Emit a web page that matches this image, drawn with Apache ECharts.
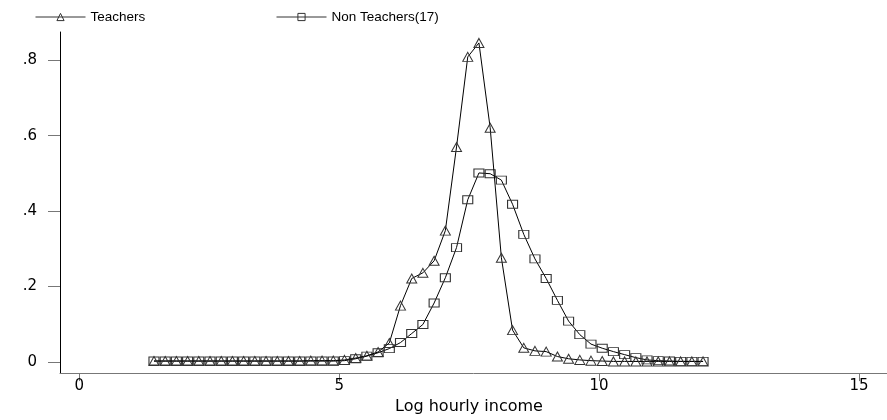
<!DOCTYPE html>
<html>
<head>
<meta charset="utf-8">
<script src="https://cdn.jsdelivr.net/npm/echarts@6/dist/echarts.min.js"></script>
<style>
html,body{margin:0;padding:0;background:#fff;}
#chart{width:887px;height:420px;}
</style>
</head>
<body>
<div id="chart"></div>
<script>
// Log hourly income grid (x values)
const xValues = [1.437,1.653,1.868,2.084,2.299,2.515,2.731,2.946,3.162,3.377,
  3.593,3.809,4.024,4.240,4.455,4.671,4.887,5.102,5.318,5.533,
  5.749,5.965,6.180,6.396,6.611,6.827,7.043,7.258,7.474,7.689,
  7.905,8.121,8.336,8.552,8.767,8.983,9.199,9.414,9.630,9.845,
  10.061,10.277,10.492,10.708,10.923,11.139,11.355,11.570,11.786,12.001];

const teachers = [0.002,0.002,0.002,0.002,0.002,0.002,0.002,0.002,0.002,0.002,
  0.002,0.002,0.002,0.002,0.003,0.003,0.003,0.005,0.010,0.016,
  0.026,0.050,0.149,0.221,0.236,0.268,0.348,0.570,0.809,0.846,
  0.621,0.276,0.084,0.037,0.029,0.027,0.014,0.008,0.005,0.003,
  0.002,0.001,0.001,0.001,0.001,0.001,0.001,0.001,0.001,0.001];

const nonTeachers = [0.002,0.002,0.002,0.002,0.002,0.002,0.002,0.002,0.002,0.002,
  0.002,0.002,0.002,0.002,0.002,0.002,0.002,0.003,0.008,0.015,
  0.024,0.035,0.051,0.075,0.099,0.156,0.223,0.303,0.430,0.501,
  0.499,0.482,0.418,0.338,0.273,0.221,0.163,0.108,0.072,0.047,
  0.036,0.027,0.019,0.011,0.005,0.003,0.002,0.001,0.001,0.001];

const seriesNames = ['Teachers', 'Non Teachers(17)'];
const xTickValues = [0, 5, 10, 15];
const yTickValues = [0, 0.2, 0.4, 0.6, 0.8];
const yTickLabels = ['0', '.2', '.4', '.6', '.8'];
const xTitle = 'Log hourly income';

const pairs = (ys) => xValues.map((x, i) => [x, ys[i]]);

const chart = echarts.init(document.getElementById('chart'), null, {renderer: 'canvas'});

const markerStyle = {color: 'rgba(255,255,255,0)', borderColor: '#333', borderWidth: 1};

const legendBase = {
  top: 10, padding: 0, itemWidth: 50, itemHeight: 9, selectedMode: false,
  textStyle: {fontSize: 13.5, color: '#000', fontFamily: 'Liberation Sans'},
  itemStyle: {color: 'rgba(255,255,255,0)', borderColor: '#333', borderWidth: 1},
  lineStyle: {color: '#333', width: 1}
};

chart.setOption({
  animation: false,
  backgroundColor: '#fff',
  textStyle: {fontFamily: 'Liberation Sans'},
  grid: {left: 60, right: 0, top: 32, bottom: 42.3, containLabel: false},
  legend: [
    Object.assign({}, legendBase, {data: [seriesNames[0]], left: 35}),
    Object.assign({}, legendBase, {data: [seriesNames[1]], left: 276})
  ],
  xAxis: {
    type: 'value', min: -0.371, max: 15.54,
    name: xTitle, nameLocation: 'middle', nameGap: 21,
    nameTextStyle: {fontSize: 16, color: '#000', fontFamily: 'DejaVu Sans', padding: [0, 9, 0, 0]},
    axisLine: {show: true, onZero: false, lineStyle: {color: '#777', width: 1}},
    axisTick: {show: true, customValues: xTickValues, length: 8, lineStyle: {color: '#777'}},
    axisLabel: {customValues: xTickValues, margin: 6, fontSize: 15, color: '#000', fontFamily: 'DejaVu Sans'},
    splitLine: {show: false}
  },
  yAxis: {
    type: 'value', min: -0.030, max: 0.875,
    axisLine: {show: true, onZero: false, lineStyle: {color: '#000', width: 1}},
    axisTick: {show: true, customValues: yTickValues, length: 12, lineStyle: {color: '#777'}},
    axisLabel: {
      customValues: yTickValues, margin: 23, fontSize: 15, color: '#000', fontFamily: 'DejaVu Sans',
      formatter: (v) => {
        const i = yTickValues.findIndex(t => Math.abs(t - v) < 1e-9);
        return i >= 0 ? yTickLabels[i] : '';
      }
    },
    splitLine: {show: false}
  },
  series: [
    {
      name: seriesNames[0], type: 'line', data: pairs(teachers),
      symbol: 'triangle', symbolSize: [10, 9], showAllSymbol: true,
      itemStyle: markerStyle, lineStyle: {color: '#000', width: 1},
      emphasis: {disabled: true}, z: 3
    },
    {
      name: seriesNames[1], type: 'line', data: pairs(nonTeachers),
      symbol: 'rect', symbolSize: [10, 8], showAllSymbol: true,
      itemStyle: markerStyle, lineStyle: {color: '#000', width: 1},
      emphasis: {disabled: true}, z: 2
    }
  ]
});
</script>
</body>
</html>
